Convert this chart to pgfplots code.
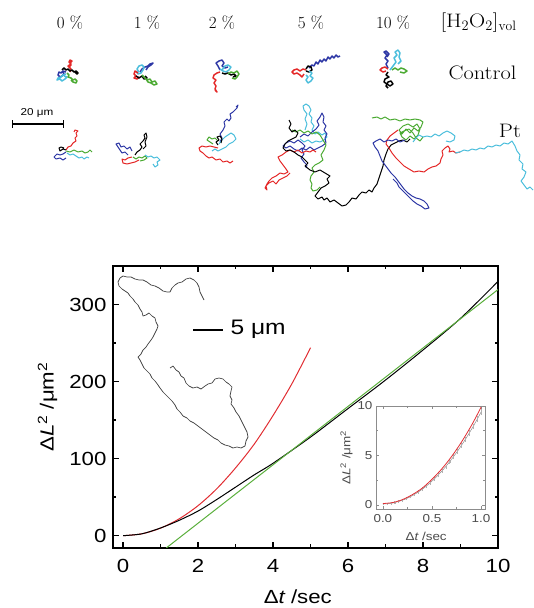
\documentclass[border=0pt]{standalone}
\usepackage{fontspec}
\usepackage{pgfplots}
\pgfplotsset{compat=1.18}
\newfontfamily\hv[FakeStretch=1.17]{Liberation Sans}
\newfontfamily\lmw[FakeStretch=1.15]{Latin Modern Roman}
\definecolor{trred}{RGB}{228,40,40}
\definecolor{trblue}{RGB}{45,55,165}
\definecolor{trcyan}{RGB}{75,190,220}
\definecolor{trgreen}{RGB}{75,170,50}
\definecolor{cgreen}{RGB}{90,175,60}
\definecolor{cred}{RGB}{225,45,50}
\definecolor{insetgray}{RGB}{140,140,140}

\begin{document}
\begin{tikzpicture}
\useasboundingbox (0,0) rectangle (534pt,608pt);

% ---------- main MSD plot ----------
\begin{axis}[
    at={(113pt,60pt)}, anchor=south west,
    width=385pt, height=282pt, scale only axis,
    xmin=-0.27, xmax=10, ymin=-16, ymax=350,
    xtick={0,2,...,10}, ytick={0,100,200,300},
    minor x tick num=1, minor y tick num=1,
    tick align=inside,
    major tick length=6pt, minor tick length=3.5pt,
    every tick/.style={black, line width=1.3pt},
    axis line style={line width=1.8pt},
    ticklabel style={font=\hv\fontsize{19}{19}\selectfont},
    /pgf/number format/assume math mode=true,
    xticklabel style={yshift=-8pt},
    yticklabel style={xshift=-3pt},
    xlabel={\hv\fontsize{19}{19}\selectfont Δ{\itshape t} /sec},
    ylabel={\hv\fontsize{19}{19}\selectfont Δ{\itshape L}\textsuperscript{2} /μm\textsuperscript{2}},
    xlabel style={at={(axis description cs:0.48,-0.172)}, anchor=center},
    ylabel style={at={(axis description cs:-0.17,0.5)}, anchor=center},
]
\addplot[cred, line width=1pt, smooth] coordinates {
 (0,0) (0.5,2.4) (1,9.8) (1.5,22) (2,39) (2.5,61) (3,88) (3.5,119) (4,156) (4.5,197) (5,244)};
\addplot[black, line width=1pt, smooth] coordinates {
 (0,0) (0.5,2.4) (1,10) (1.5,20) (2,32) (2.5,47) (3,63) (3.5,79) (4,94) (5,128) (6,165) (7,202) (8,241) (9,282) (10,330)};
\addplot[cgreen, line width=1pt] coordinates {(1.15,-16) (10,319.4)};
\end{axis}

% ---------- inset ----------
\begin{axis}[
    at={(376pt,99pt)}, anchor=south west,
    width=109pt, height=103pt, scale only axis,
    xmin=-0.07, xmax=1.04, ymin=-0.4, ymax=10,
    xtick={0,0.5,1}, ytick={0,5,10},
    minor x tick num=1, minor y tick num=1,
    tick align=inside,
    major tick length=3pt, minor tick length=2pt,
    every tick/.style={insetgray, line width=0.6pt},
    axis line style={insetgray, line width=0.9pt},
    ticklabel style={font=\hv\fontsize{11.5}{11.5}\selectfont, text=black!70},
    /pgf/number format/assume math mode=true,
    xticklabel style={/pgf/number format/.cd, fixed, fixed zerofill, precision=1, /tikz/.cd, yshift=-2pt},
    xlabel={\hv\fontsize{11.5}{11.5}\selectfont Δ{\itshape t} /sec},
    ylabel={\hv\fontsize{11.5}{11.5}\selectfont Δ{\itshape L}\textsuperscript{2} /μm\textsuperscript{2}},
    xlabel style={at={(axis description cs:0.46,-0.27)}, anchor=center, text=black!70},
    ylabel style={at={(axis description cs:-0.27,0.5)}, anchor=center, text=black!70},
]
\addplot[insetgray, line width=0.5pt, error bars/.cd, y dir=both, y explicit,
  error bar style={black!30, line width=0.3pt}, error mark options={black!30, mark size=1pt}] coordinates {
 (0,0.10) +- (0,0.03) (0.04,0.12) +- (0,0.03) (0.08,0.17) +- (0,0.04) (0.12,0.25) +- (0,0.04)
 (0.16,0.36) +- (0,0.05) (0.20,0.49) +- (0,0.05) (0.24,0.65) +- (0,0.06) (0.28,0.84) +- (0,0.06)
 (0.32,1.06) +- (0,0.07) (0.36,1.31) +- (0,0.07) (0.40,1.59) +- (0,0.08) (0.44,1.89) +- (0,0.08)
 (0.48,2.23) +- (0,0.09) (0.52,2.60) +- (0,0.09) (0.56,3.00) +- (0,0.10) (0.60,3.42) +- (0,0.10)
 (0.64,3.88) +- (0,0.11) (0.68,4.37) +- (0,0.12) (0.72,4.89) +- (0,0.13) (0.76,5.44) +- (0,0.14)
 (0.80,6.02) +- (0,0.15) (0.84,6.63) +- (0,0.16) (0.88,7.27) +- (0,0.17) (0.92,7.94) +- (0,0.18)
 (0.96,8.65) +- (0,0.19) (1.00,9.39) +- (0,0.20)};
\addplot[cred, line width=0.8pt, smooth] coordinates {
 (0,0.15) (0.1,0.25) (0.2,0.55) (0.3,1.05) (0.4,1.7) (0.5,2.6) (0.6,3.65) (0.7,4.9) (0.8,6.35) (0.9,8.0) (0.97,9.3) (1.0,9.9)};
\end{axis}

% ---------- trajectories and annotations, in picture pixels ----------
\begin{axis}[
    at={(0pt,0pt)}, anchor=south west,
    width=534pt, height=608pt, scale only axis,
    xmin=0, xmax=534, ymin=0, ymax=608, y dir=reverse,
    hide axis, clip=false,
    every axis plot/.append style={no markers, line width=1pt, line join=round},
    ctrl/.style={line width=1.5pt},
]
% control, 0 %
\addplot[trred, ctrl] coordinates {(70,72)(71,69)(69,67)(71,65)(70,63)(72,61)(70,60)(69,62)(71,64)(68,66)(70,68)};
\addplot[black, ctrl] coordinates {(62,70)(64,68)(66,70)(68,69)(70,71)(72,70)(74,72)(76,71)(78,73)(77,74)(75,72)};
\addplot[trblue, ctrl] coordinates {(66,72)(63,71)(61,73)(59,72)(58,75)(60,77)(62,76)(64,74)(63,72)};
\addplot[trcyan, ctrl] coordinates {(66,74)(63,75)(61,77)(58,78)(57,80)(60,79)(62,81)(65,79)(67,77)(64,76)};
\addplot[trgreen, ctrl] coordinates {(67,73)(69,75)(68,77)(71,78)(73,80)(75,79)(77,81)(76,83)(73,82)(71,80)};
% control, 1 %
\addplot[trblue, ctrl] coordinates {(140,72)(142,69)(145,67)(148,66)(150,64)(153,63)(151,65)(148,67)(146,70)};
\addplot[trcyan, ctrl] coordinates {(139,72)(137,69)(139,66)(142,65)(144,67)(143,70)(141,73)(138,74)(136,71)};
\addplot[trred, ctrl] coordinates {(138,73)(135,71)(134,74)(136,76)(134,78)(137,79)(139,77)};
\addplot[black, ctrl] coordinates {(136,76)(139,78)(142,76)(144,79)(147,78)(145,76)};
\addplot[trgreen, ctrl] coordinates {(142,75)(145,78)(147,80)(150,79)(152,82)(155,81)(157,84)(154,85)(151,83)(148,82)(146,79)};
% control, 2 %
\addplot[trblue, ctrl] coordinates {(220,70)(218,66)(216,63)(219,61)(222,60)(224,63)(222,66)(225,68)(228,67)};
\addplot[trcyan, ctrl] coordinates {(222,70)(225,66)(228,65)(231,67)(229,70)(226,72)(223,71)(220,69)};
\addplot[trred, ctrl] coordinates {(220,72)(217,73)(214,75)(213,78)(216,80)(214,83)(216,86)(215,89)(217,92)(215,90)};
\addplot[black, ctrl] coordinates {(222,73)(225,74)(228,73)(231,75)(234,74)(236,76)(233,77)};
\addplot[trgreen, ctrl] coordinates {(228,74)(231,72)(234,73)(237,71)(239,74)(237,77)(235,79)(232,78)};
% control, 5 %
\addplot[trblue, ctrl] coordinates {(309,68)(312,65)(314,66)(316,62)(318,64)(320,60)(322,62)(324,59)(326,61)(328,57)(330,59)(332,56)(334,58)(336,55)(338,57)(340,56)};
\addplot[trred, ctrl] coordinates {(306,70)(303,69)(300,71)(297,69)(294,70)(292,72)(294,74)(297,73)(300,75)(302,77)(304,74)};
\addplot[black, ctrl] coordinates {(306,69)(308,66)(311,67)(312,70)(309,72)(306,71)};
\addplot[trcyan, ctrl] coordinates {(309,71)(312,73)(310,76)(313,78)(311,81)(308,83)(306,80)(308,77)(306,75)};
% control, 10 %
\addplot[trblue, ctrl] coordinates {(388,68)(386,64)(388,61)(385,58)(387,55)(384,52)(386,51)(389,54)(387,57)};
\addplot[trcyan, ctrl] coordinates {(390,70)(393,66)(396,62)(394,58)(397,55)(395,52)(398,50)(400,53)(399,57)(401,61)(398,64)};
\addplot[trred, ctrl] coordinates {(388,69)(385,67)(382,68)(380,70)(383,72)(386,71)};
\addplot[trgreen, ctrl] coordinates {(392,70)(395,68)(398,70)(401,68)(404,69)(407,71)(404,73)(400,72)};
\addplot[black, ctrl] coordinates {(388,72)(386,75)(389,77)(385,79)(384,82)(387,84)(390,86)(393,84)(391,81)(388,82)(386,86)(388,88)};
% Pt, 0 %
\addplot[trred] coordinates {(66,150)(68,147)(71,146)(73,143)(76,141)(75,138)(77,136)(76,133)(78,131)(75,130)(74,132)};
\addplot[black] coordinates {(66,150)(63,149)(60,151)(59,148)(61,147)(64,148)};
\addplot[trgreen] coordinates {(66,151)(70,152)(74,150)(78,152)(82,151)(85,153)(88,152)(90,150)(92,152)};
\addplot[trblue] coordinates {(66,152)(63,154)(60,155)(57,154)(54,157)(56,159)(60,158)(63,160)(66,158)};
\addplot[trcyan] coordinates {(67,153)(70,155)(73,154)(76,156)(79,158)(82,157)(84,159)(87,157)(89,158)};
% Pt, 1 %
\addplot[trblue] coordinates {(128,155)(125,152)(122,153)(120,150)(118,147)(116,144)(119,143)(121,147)(124,146)(127,149)(130,147)(132,151)};
\addplot[black] coordinates {(135,155)(137,152)(140,150)(142,147)(140,144)(143,141)(145,138)(144,135)(146,133)(147,137)(145,142)(146,146)(143,149)};
\addplot[trred] coordinates {(132,157)(128,158)(125,160)(122,159)(123,163)(127,164)(131,163)(135,162)(139,160)};
\addplot[trgreen] coordinates {(133,157)(136,159)(139,157)(142,158)(145,156)(147,158)(144,160)(140,161)};
\addplot[trcyan] coordinates {(145,155)(148,157)(151,156)(154,158)(157,157)(160,160)(157,162)(158,165)(155,167)(153,164)};
% Pt, 2 %
\addplot[trblue] coordinates {(220,142)(222,138)(220,134)(223,130)(225,126)(224,122)(227,119)(229,121)(231,118)(230,114)(233,112)(235,110)(237,108)(238,105)(236,107)};
\addplot[trred] coordinates {(218,148)(214,147)(210,146)(206,147)(202,146)(199,148)(200,151)(203,153)(206,156)(209,158)(212,157)(216,160)(220,159)(223,162)(227,161)(230,163)(233,161)};
\addplot[trgreen] coordinates {(218,141)(215,138)(212,139)(209,137)(207,140)(210,142)(213,144)};
\addplot[trcyan] coordinates {(219,144)(222,140)(225,137)(228,135)(231,133)(234,135)(236,139)(233,142)(229,144)(226,147)(222,149)(218,151)(215,149)(212,151)};
\addplot[black] coordinates {(218,145)(216,142)(219,140)(217,137)(220,136)(222,139)(221,143)};
% Pt, 5 %
\addplot[trcyan] coordinates {(305,130)(307,124)(305,119)(307,114)(304,110)(303,106)(306,104)(309,106)(311,110)(309,114)(312,118)(311,122)(314,126)(312,130)(315,134)(318,132)(322,135)(325,133)(327,137)(324,140)(320,142)(316,141)(312,143)(308,140)(304,142)(300,139)};
\addplot[trblue] coordinates {(300,137)(304,134)(308,136)(312,132)(316,129)(319,125)(317,121)(320,117)(322,113)(324,117)(323,122)(326,126)(324,130)(327,134)(325,138)(326,143)(322,146)(318,148)(314,150)(310,147)(306,150)(302,148)(298,151)(294,149)(290,146)(286,148)(283,146)(286,143)(290,141)(294,143)(298,140)(302,143)(305,146)(302,150)(304,154)(301,158)(304,162)(307,165)(306,168)};
\addplot[trgreen] coordinates {(292,130)(296,132)(300,130)(304,133)(308,131)(312,134)(316,132)(320,135)(323,140)(326,145)(324,150)(321,155)(323,160)(319,163)(315,165)(312,168)(314,172)(311,176)(310,180)(312,184)(311,188)(313,191)(317,190)(320,187)};
\addplot[trred] coordinates {(316,152)(313,150)(310,152)(306,151)(302,153)(298,150)(294,152)(290,150)(286,152)(282,155)(278,157)(280,161)(283,165)(286,169)(288,172)(284,174)(280,173)(276,176)(272,178)(269,181)(267,184)(265,188)(267,190)(266,186)(269,183)(273,181)(276,184)(279,180)(283,178)(287,176)(290,173)};
\addplot[black] coordinates {(289,120)(291,124)(289,128)(292,132)(295,130)(298,133)(296,137)(292,139)(288,141)(285,144)(283,148)(286,151)(290,150)(294,152)(298,155)(302,157)(305,160)(308,163)(305,166)(310,170)(315,172)(320,170)(325,173)(330,176)(327,179)(329,183)(325,186)(321,188)(318,192)(315,196)(318,199)(322,197)(324,200)(327,198)(330,202)(334,200)(338,203)(342,206)(346,205)(349,202)(352,198)(356,199)(359,195)(362,192)(366,193)(369,190)(372,192)(374,188)(377,184)(379,178)(381,172)(383,166)(384,160)(386,154)(388,149)(391,145)(395,143)(399,141)(403,140)(407,142)(410,139)};
% Pt, 10 %
\addplot[trgreen] coordinates {(372,118)(377,117)(381,119)(385,117)(390,120)(395,119)(400,121)(405,119)(410,120)(415,119)(420,120)(423,122)(421,127)(418,131)(414,128)(410,133)(406,129)(402,134)(399,130)(403,126)(408,124)(413,127)(417,124)(420,129)(418,135)(414,139)(410,136)(406,140)(402,137)(400,133)(404,131)(409,129)(413,133)(416,138)(420,141)(423,137)};
\addplot[trred] coordinates {(398,130)(394,133)(390,136)(387,140)(386,144)(389,148)(392,153)(396,158)(400,162)(404,166)(409,169)(414,172)(419,171)(424,172)(428,169)(432,167)(436,166)(440,163)(441,159)(443,155)(442,151)(445,148)(448,146)(450,149)(449,152)(453,151)(456,153)(460,152)};
\addplot[trcyan] coordinates {(413,142)(416,138)(419,135)(423,137)(427,136)(431,137)(435,134)(439,136)(443,133)(447,131)(451,133)(455,136)(454,140)(450,142)(446,141)};
\addplot[trcyan] coordinates {(455,153)(460,152)(464,150)(468,151)(472,149)(476,150)(480,148)(484,149)(488,146)(492,147)(496,145)(500,146)(504,143)(508,144)(512,141)(515,146)(517,151)(520,155)(519,160)(523,164)(522,169)(526,172)(524,177)(521,181)(524,185)(527,189)(530,187)(533,190)};
\addplot[trblue] coordinates {(405,140)(400,142)(396,139)(392,141)(388,140)(384,142)(380,139)(376,141)(373,143)(375,147)(378,151)(380,156)(382,161)(385,165)(388,169)(391,173)(395,177)(398,181)(401,185)(404,189)(408,193)(412,196)(416,198)(420,199)(424,201)(427,204)(429,208)(425,209)(421,206)(417,204)(413,201)(410,198)(406,194)(402,190)(399,187)(397,183)(393,179)};
% single long trajectory drawn inside the MSD plot
\addplot[black!75, line width=0.7pt] coordinates {(170,368)(173,366)(176,370)(179,372)(181,376)(184,378)(186,383)(189,386)(193,388)(197,387)(201,389)(205,386)(208,384)(212,383)(215,379)(219,378)(223,379)(226,382)(229,384)(232,387)(231,391)(230,396)(232,400)(231,404)(234,408)(236,412)(239,416)(241,420)(243,424)(245,428)(247,432)(248,437)(246,441)(245,446)(241,448)(237,447)(233,448)(229,446)(225,445)(221,443)(218,440)(214,438)(210,435)(206,432)(202,429)(198,426)(194,423)(190,421)(187,418)(183,416)(180,412)(177,409)(175,405)(172,401)(169,398)(166,395)(163,392)(160,388)(158,385)(155,381)(152,378)(150,374)(147,371)(144,368)(142,364)(140,360)(138,357)(141,354)(143,350)(146,347)(148,344)(151,340)(153,337)(155,333)(157,329)(158,326)(156,322)(155,318)(152,316)(149,313)(146,315)(143,316)(142,312)(140,309)(138,305)(135,302)(133,299)(130,296)(128,293)(125,291)(122,289)(119,286)(118,282)(120,278)(123,276)(127,277)(131,277)(135,279)(139,280)(143,280)(147,282)(151,285)(155,286)(159,288)(163,291)(167,292)(170,292)(172,288)(175,285)(178,283)(182,282)(186,279)(190,278)(194,280)(197,283)(199,287)(200,292)(202,296)(204,300)};

% labels of the trajectory panel
\node[font=\fontsize{17}{17}\selectfont] at (axis cs:70,23) {0 \%};
\node[font=\fontsize{17}{17}\selectfont] at (axis cs:147,23) {1 \%};
\node[font=\fontsize{17}{17}\selectfont] at (axis cs:222,23) {2 \%};
\node[font=\fontsize{17}{17}\selectfont] at (axis cs:311,23) {5 \%};
\node[font=\fontsize{17}{17}\selectfont] at (axis cs:393,23) {10 \%};
\node[font=\lmw\fontsize{19.5}{19.5}\selectfont, anchor=east] at (axis cs:520,23) {[H$_2$O$_2$]$_{\mathrm{vol}}$};
\node[font=\lmw\fontsize{19.5}{19.5}\selectfont, anchor=east] at (axis cs:520,73) {Control};
\node[font=\lmw\fontsize{19.5}{19.5}\selectfont] at (axis cs:510,131) {Pt};
% 20 um scale bar
\draw[line width=1.2pt] (axis cs:12,124) -- (axis cs:63,124);
\draw[line width=1pt] (axis cs:12,120) -- (axis cs:12,128);
\draw[line width=1pt] (axis cs:63,120) -- (axis cs:63,128);
\node[font=\hv\fontsize{10}{10}\selectfont] at (axis cs:37,113) {20 μm};
% 5 um scale bar
\draw[line width=1.6pt] (axis cs:193,330) -- (axis cs:223,330);
\node[font=\hv\fontsize{21}{21}\selectfont, anchor=west] at (axis cs:227,329) {5 μm};
\end{axis}
\end{tikzpicture}
\end{document}
